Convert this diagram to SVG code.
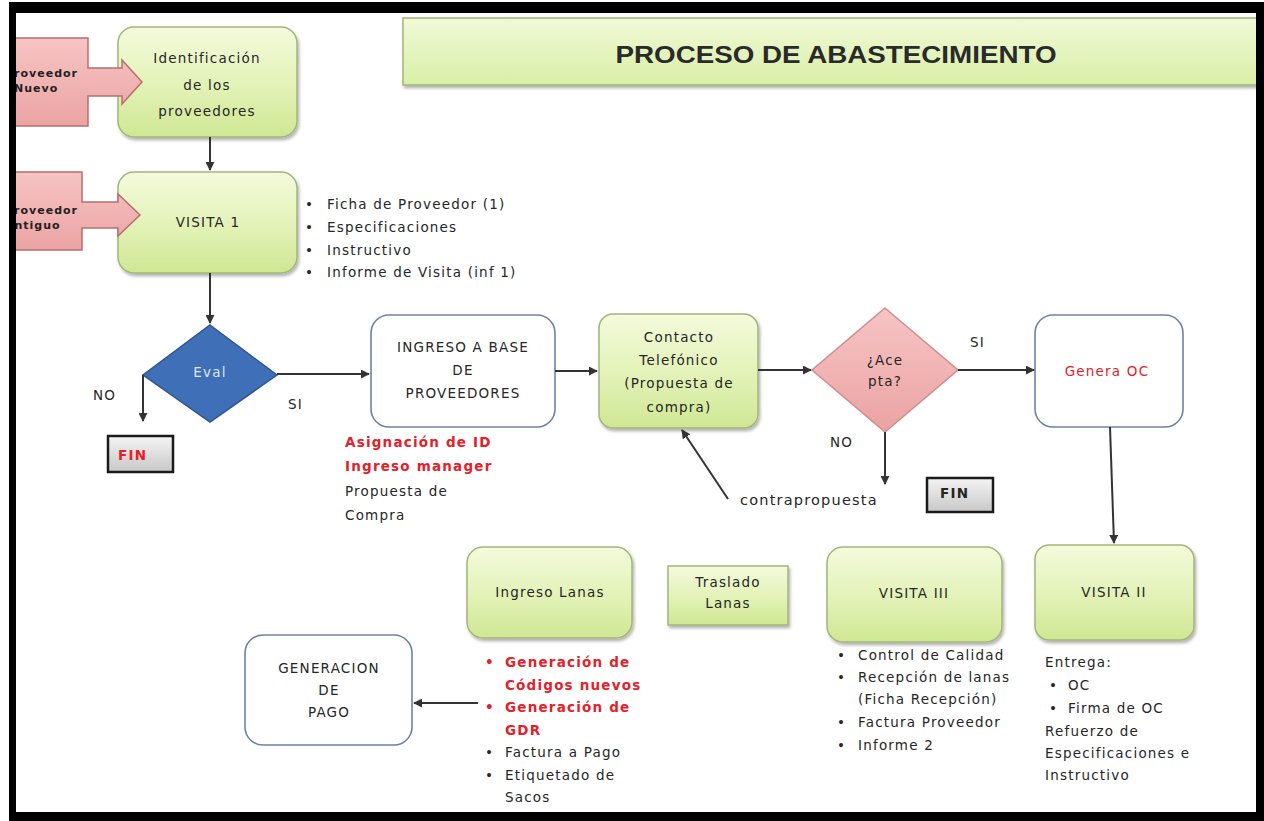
<svg xmlns="http://www.w3.org/2000/svg" width="1264" height="821" viewBox="0 0 1264 821">
<defs>
<linearGradient id="gGreen" x1="0" y1="0" x2="0" y2="1">
<stop offset="0" stop-color="#f4fadc"/>
<stop offset="0.55" stop-color="#e2f2b6"/>
<stop offset="1" stop-color="#cfe793"/>
</linearGradient>
<linearGradient id="gTitle" x1="0" y1="0" x2="0" y2="1">
<stop offset="0" stop-color="#f1f9d8"/>
<stop offset="1" stop-color="#d9efa6"/>
</linearGradient>
<linearGradient id="gPink" x1="0" y1="0" x2="0" y2="1">
<stop offset="0" stop-color="#f7c4c4"/>
<stop offset="1" stop-color="#eba3a3"/>
</linearGradient>
<linearGradient id="gGray" x1="0" y1="0" x2="0" y2="1">
<stop offset="0" stop-color="#f4f4f4"/>
<stop offset="1" stop-color="#c8c8c8"/>
</linearGradient>
<filter id="sh" x="-10%" y="-10%" width="130%" height="130%">
<feDropShadow dx="1.5" dy="2.5" stdDeviation="1.5" flood-color="#000" flood-opacity="0.3"/>
</filter>
<marker id="ah" viewBox="0 0 10 10" refX="9" refY="5" markerWidth="9" markerHeight="9" markerUnits="userSpaceOnUse" orient="auto">
<path d="M0,0 L10,5 L0,10 Z" fill="#333"/>
</marker>
<clipPath id="inside"><rect x="16" y="0" width="1248" height="821"/></clipPath>
<style>
.t{font-family:"DejaVu Sans",Verdana,sans-serif;font-size:13.5px;letter-spacing:1.2px;fill:#262626}
.c{text-anchor:middle}
.r{fill:#e5202a;font-weight:bold}
.g{fill:url(#gGreen);stroke:#a3b57a;stroke-width:1.5;filter:url(#sh)}
.w{fill:#fff;stroke:#6b84a3;stroke-width:1.6}
.p{fill:url(#gPink);stroke:#b56f6f;stroke-width:1.5}
.fin{fill:url(#gGray);stroke:#1a1a1a;stroke-width:2.5}
.ln{fill:none;stroke:#333;stroke-width:2;marker-end:url(#ah)}
.pt{font-family:"DejaVu Sans",Verdana,sans-serif;font-size:11px;letter-spacing:1px;fill:#222;font-weight:bold}
</style>
</defs>
<rect x="0" y="0" width="1264" height="821" fill="#fff"/>

<g id="title">
<rect x="403" y="18" width="860" height="67" fill="url(#gTitle)" stroke="#a3b57a" stroke-width="1.5" filter="url(#sh)"/>
<text x="836" y="63" text-anchor="middle" font-family="'Liberation Sans',Arial,sans-serif" font-weight="bold" font-size="23px" fill="#2a2a2a" textLength="441" lengthAdjust="spacingAndGlyphs">PROCESO DE ABASTECIMIENTO</text>
</g>

<g id="identificacion">
<rect class="g" x="118" y="27" width="179" height="110" rx="16"/>
<text class="t c" x="207" y="63">Identificación</text>
<text class="t c" x="207" y="90">de los</text>
<text class="t c" x="207" y="116">proveedores</text>
</g>

<g id="visita1">
<rect class="g" x="118" y="172" width="179" height="101" rx="16"/>
<text class="t c" x="208" y="227">VISITA 1</text>
</g>

<g id="proveedor-nuevo" clip-path="url(#inside)">
<path class="p" d="M6,38 H88 V68 H122 V60 L142,82 L122,104 V96 H88 V126 H6 Z"/>
<text class="pt" x="5" y="77">Proveedor</text>
<text class="pt" x="14" y="92">Nuevo</text>
</g>

<g id="proveedor-antiguo" clip-path="url(#inside)">
<path class="p" d="M6,172 H82 V202 H118 V194 L140,215 L118,236 V228 H82 V250 H6 Z"/>
<text class="pt" x="5" y="214">Proveedor</text>
<text class="pt" x="5" y="229">Antiguo</text>
</g>

<g id="visita1-notas">
<text class="t" x="305" y="209">•</text><text class="t" x="327" y="209">Ficha de Proveedor (1)</text>
<text class="t" x="305" y="232">•</text><text class="t" x="327" y="232">Especificaciones</text>
<text class="t" x="305" y="255">•</text><text class="t" x="327" y="255">Instructivo</text>
<text class="t" x="305" y="277">•</text><text class="t" x="327" y="277">Informe de Visita (inf 1)</text>
</g>

<g id="eval">
<path d="M210,325 L277,375 L210,422 L143,375 Z" fill="#3f6fb6" stroke="#2f5590" stroke-width="1.5"/>
<text class="t c" x="210" y="377" style="fill:#dfe8f7">Eval</text>
</g>

<g id="fin1">
<rect class="fin" x="108" y="436" width="65" height="36"/>
<text class="t r" x="118" y="460">FIN</text>
</g>

<g id="ingreso-base">
<rect class="w" x="371" y="315" width="184" height="112" rx="18"/>
<text class="t c" x="463" y="352">INGRESO A BASE</text>
<text class="t c" x="463" y="375">DE</text>
<text class="t c" x="463" y="398">PROVEEDORES</text>
</g>

<g id="ingreso-notas">
<text class="t r" x="345" y="447">Asignación de ID</text>
<text class="t r" x="345" y="471">Ingreso manager</text>
<text class="t" x="345" y="496">Propuesta de</text>
<text class="t" x="345" y="520">Compra</text>
</g>

<g id="contacto">
<rect class="g" x="599" y="314" width="159" height="114" rx="14"/>
<text class="t c" x="679" y="342">Contacto</text>
<text class="t c" x="679" y="365">Telefónico</text>
<text class="t c" x="679" y="388">(Propuesta de</text>
<text class="t c" x="679" y="412">compra)</text>
</g>

<g id="contrapropuesta">
<text class="t" x="740" y="505" style="font-size:14.5px">contrapropuesta</text>
</g>

<g id="acepta">
<path d="M885,308 L958,370 L885,432 L812,370 Z" fill="url(#gPink)" stroke="#cf8c8c" stroke-width="1.5"/>
<text class="t c" x="885" y="365">¿Ace</text>
<text class="t c" x="885" y="386">pta?</text>
</g>

<g id="fin2">
<rect class="fin" x="927" y="478" width="66" height="34"/>
<text class="t" x="940" y="498" style="font-weight:bold">FIN</text>
</g>

<g id="genera-oc">
<rect class="w" x="1035" y="315" width="148" height="112" rx="18"/>
<text class="t c" x="1107" y="376" style="fill:#e5202a">Genera OC</text>
</g>

<g id="visita2">
<rect class="g" x="1035" y="545" width="159" height="95" rx="14"/>
<text class="t c" x="1114" y="597">VISITA II</text>
</g>

<g id="visita2-notas">
<text class="t" x="1045" y="667">Entrega:</text>
<text class="t" x="1049" y="690">•</text><text class="t" x="1068" y="690">OC</text>
<text class="t" x="1049" y="713">•</text><text class="t" x="1068" y="713">Firma de OC</text>
<text class="t" x="1045" y="736">Refuerzo de</text>
<text class="t" x="1045" y="758">Especificaciones  e</text>
<text class="t" x="1045" y="780">Instructivo</text>
</g>

<g id="visita3">
<rect class="g" x="827" y="547" width="175" height="95" rx="16"/>
<text class="t c" x="914" y="598">VISITA III</text>
</g>

<g id="visita3-notas">
<text class="t" x="837" y="660">•</text><text class="t" x="858" y="660">Control de Calidad</text>
<text class="t" x="837" y="682">•</text><text class="t" x="858" y="682">Recepción de lanas</text>
<text class="t" x="858" y="704">(Ficha Recepción)</text>
<text class="t" x="837" y="727">•</text><text class="t" x="858" y="727">Factura Proveedor</text>
<text class="t" x="837" y="750">•</text><text class="t" x="858" y="750">Informe 2</text>
</g>

<g id="traslado">
<rect class="g" x="668" y="566" width="120" height="59"/>
<text class="t c" x="728" y="587">Traslado</text>
<text class="t c" x="728" y="608">Lanas</text>
</g>

<g id="ingreso-lanas">
<rect class="g" x="467" y="547" width="165" height="91" rx="16"/>
<text class="t c" x="550" y="597">Ingreso Lanas</text>
</g>

<g id="ingreso-lanas-notas">
<text class="t r" x="485" y="667">•</text><text class="t r" x="505" y="667">Generación de</text>
<text class="t r" x="505" y="690">Códigos nuevos</text>
<text class="t r" x="485" y="712">•</text><text class="t r" x="505" y="712">Generación de</text>
<text class="t r" x="505" y="735">GDR</text>
<text class="t" x="485" y="757">•</text><text class="t" x="505" y="757">Factura a Pago</text>
<text class="t" x="485" y="780">•</text><text class="t" x="505" y="780">Etiquetado de</text>
<text class="t" x="505" y="802">Sacos</text>
</g>

<g id="generacion-pago">
<rect class="w" x="245" y="635" width="167" height="110" rx="18"/>
<text class="t c" x="329" y="673">GENERACION</text>
<text class="t c" x="329" y="695">DE</text>
<text class="t c" x="329" y="717">PAGO</text>
</g>

<g id="labels">
<text class="t" x="93" y="400">NO</text>
<text class="t" x="288" y="409">SI</text>
<text class="t" x="970" y="347">SI</text>
<text class="t" x="830" y="447">NO</text>
</g>

<g id="connectors">
<path class="ln" d="M210,137 L210,170"/>
<path class="ln" d="M210,273 L210,323"/>
<path class="ln" d="M143,375 L143,421"/>
<path class="ln" d="M277,374 L369,374"/>
<path class="ln" d="M555,371 L597,371"/>
<path class="ln" d="M758,370 L811,370"/>
<path class="ln" d="M728,499 L682,430"/>
<path class="ln" d="M958,370 L1034,370"/>
<path class="ln" d="M885,432 L885,484"/>
<path class="ln" d="M1110,427 L1114,543"/>
<path class="ln" d="M478,703 L414,703"/>
</g>

<g id="frame" fill="#000">
<rect x="9" y="2" width="1255" height="11"/>
<rect x="9" y="2" width="7" height="819"/>
<rect x="1256" y="2" width="8" height="819"/>
<rect x="9" y="812" width="1255" height="9"/>
</g>
</svg>
